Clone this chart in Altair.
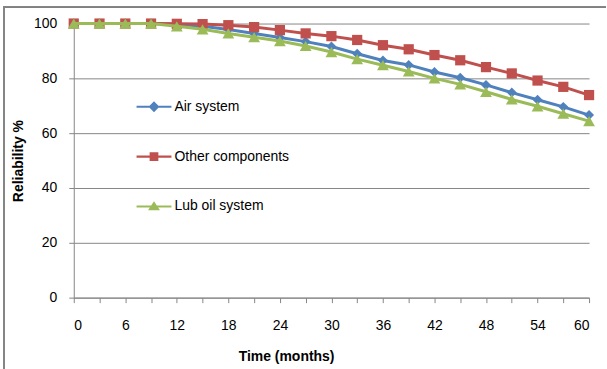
import altair as alt
import pandas as pd

months = [0, 3, 6, 9, 12, 15, 18, 21, 24, 27, 30, 33, 36, 39, 42, 45, 48, 51, 54, 57, 60]
air_system = [100, 100, 100, 100, 99.7, 99.0, 97.8, 96.4, 94.9, 93.4, 91.6, 89.0,
              86.5, 84.9, 82.3, 80.2, 77.6, 74.8, 72.2, 69.6, 66.6]
other_components = [100, 100, 100, 100, 99.9, 99.8, 99.4, 98.7, 97.6, 96.4, 95.4, 94.0,
                    92.1, 90.6, 88.5, 86.6, 84.1, 81.8, 79.2, 76.9, 73.9]
lub_oil_system = [100, 100, 100, 100, 99.0, 97.9, 96.4, 95.0, 93.6, 91.8, 89.6, 87.0,
                  84.8, 82.5, 80.0, 77.8, 75.1, 72.3, 69.8, 67.1, 64.4]
series_names = ["Air system", "Other components", "Lub oil system"]
x_tick_values = [0, 3, 6, 9, 12, 15, 18, 21, 24, 27, 30, 33, 36, 39, 42, 45, 48, 51, 54, 57, 60]
y_tick_values = [0, 20, 40, 60, 80, 100]

colors = ["#4F81BD", "#C0504D", "#9BBB59"]
marker_shapes = ["diamond", "square", "triangle-up"]
marker_sizes = [100, 105, 140]
LINE = "M-1,-0.06L1,-0.06L1,0.06L-1,0.06Z"
legend_paths = [
    LINE + "M0,-0.31L0.31,0L0,0.31L-0.31,0Z",
    LINE + "M-0.25,-0.25L0.25,-0.25L0.25,0.25L-0.25,0.25Z",
    LINE + "M0,-0.3L0.34,0.22L-0.34,0.22Z",
]

rows = []
for name, vals in zip(series_names, [air_system, other_components, lub_oil_system]):
    for m, v in zip(months, vals):
        rows.append({"month": m, "reliability": v, "series": name})
df = pd.DataFrame(rows)

FONT = "Liberation Sans"
GRAY = "#868686"
W, H = 517, 275

x_enc = alt.X(
    "month:Q",
    scale=alt.Scale(domain=[0, 60], nice=False, zero=True),
    axis=alt.Axis(
        values=x_tick_values,
        labelExpr="datum.value % 6 === 0 ? datum.label : ''",
        grid=False, tickSize=5, tickColor=GRAY, domainColor=GRAY,
        labelPadding=16, labelFontSize=14, labelFont=FONT, labelColor="black",
        title="Time (months)", titleFont=FONT, titleFontSize=14, titleFontWeight="bold",
        titleColor="black", titleX=213, titleY=59, titleAlign="center", titleBaseline="middle",
    ),
)
y_enc = alt.Y(
    "reliability:Q",
    scale=alt.Scale(domain=[0, 100], nice=False),
    axis=alt.Axis(
        values=y_tick_values, grid=True, gridColor=GRAY, tickSize=5, tickColor=GRAY,
        domainColor=GRAY, labelPadding=12, labelFontSize=14, labelFont=FONT, labelColor="black",
        title="Reliability %", titleFont=FONT, titleFontSize=14, titleFontWeight="bold",
        titleColor="black", titleX=-55, titleY=H / 2, titleAlign="center",
        titleBaseline="middle", titleAngle=270,
    ),
)

base = alt.Chart(df)
layers = []
for name, col, shp, sz in zip(series_names, colors, marker_shapes, marker_sizes):
    sub = base.transform_filter(alt.datum.series == name)
    layers.append(sub.mark_line(color=col, strokeWidth=3).encode(x=x_enc, y=y_enc))
    layers.append(sub.mark_point(shape=shp, filled=True, size=sz, color=col, opacity=1)
                  .encode(x=x_enc, y=y_enc))

leg = alt.Legend(
    title=None, orient="none", legendX=63, legendY=66, symbolSize=1225,
    symbolStrokeWidth=0, symbolOpacity=1, labelFontSize=14, labelFont=FONT,
    labelColor="black", labelOffset=3, rowPadding=25, padding=0,
)
legend_layer = base.mark_point(filled=True, opacity=0).encode(
    x=x_enc, y=y_enc,
    color=alt.Color("series:N", scale=alt.Scale(domain=series_names, range=colors), legend=leg),
    shape=alt.Shape("series:N", scale=alt.Scale(domain=series_names, range=legend_paths), legend=leg),
)

top_border = base.mark_rule(color=GRAY, strokeWidth=1).encode(
    x=alt.value(-70), x2=alt.value(534), y=alt.value(-17))
left_border = base.mark_rule(color=GRAY, strokeWidth=1).encode(
    x=alt.value(-70), y=alt.value(-17), y2=alt.value(347))

chart = alt.layer(top_border, left_border, *layers, legend_layer).properties(
    width=W, height=H, padding={"left": 3, "top": 5, "right": 0, "bottom": 0},
    background="white",
).configure_view(stroke=None)

chart.save("out.html", embed_options={"renderer": "svg", "actions": False})
